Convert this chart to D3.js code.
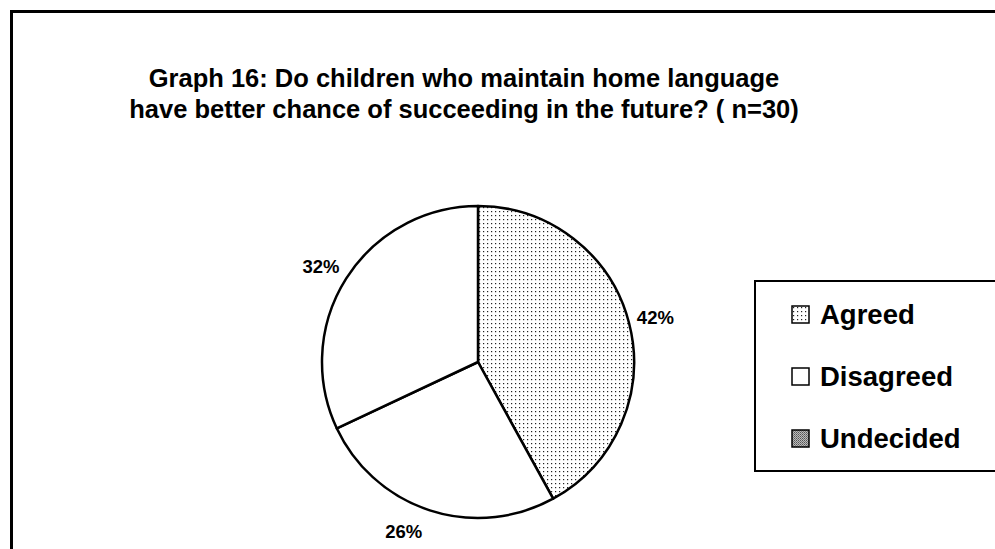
<!DOCTYPE html>
<html>
<head>
<meta charset="utf-8">
<script src="https://cdnjs.cloudflare.com/ajax/libs/d3/7.8.5/d3.min.js"></script>
<style>
  body { margin: 0; background: #fff; }
  svg { display: block; font-family: "Liberation Sans", Arial, sans-serif; }
</style>
</head>
<body>
<div class="canvas"></div>
<script>
const categories = ['Agreed', 'Disagreed', 'Undecided'];
const values = [42, 26, 32];
const titleLines = [
  'Graph 16: Do children who maintain home language',
  'have better chance of succeeding in the future? ( n=30)'
];

const dims = { width: 995, height: 549, radius: 156 };
const cent = { x: 478, y: 362 };

const svg = d3.select('.canvas')
  .append('svg')
  .attr('width', dims.width)
  .attr('height', dims.height);

// fill patterns: dots for Agreed, grey screen for Undecided
const defs = svg.append('defs');
const dots = defs.append('pattern')
  .attr('id', 'dots')
  .attr('patternUnits', 'userSpaceOnUse')
  .attr('width', 4).attr('height', 4);
dots.append('rect').attr('width', 4).attr('height', 4).attr('fill', '#fff');
dots.append('rect').attr('x', 1).attr('y', 1).attr('width', 1.2).attr('height', 1.2).attr('fill', '#222');

const grey = defs.append('pattern')
  .attr('id', 'grey')
  .attr('patternUnits', 'userSpaceOnUse')
  .attr('width', 2).attr('height', 2);
grey.append('rect').attr('width', 2).attr('height', 2).attr('fill', '#bbb');
grey.append('rect').attr('width', 1).attr('height', 1).attr('fill', '#555');
grey.append('rect').attr('x', 1).attr('y', 1).attr('width', 1).attr('height', 1).attr('fill', '#777');

// the pie itself shows Undecided white, as in the scan
const sliceFill = d3.scaleOrdinal()
  .domain(categories)
  .range(['url(#dots)', '#fff', '#fff']);
const legendFill = d3.scaleOrdinal()
  .domain(categories)
  .range(['url(#dots)', '#fff', 'url(#grey)']);

// outer frame (only top and left visible)
svg.append('path')
  .attr('d', `M11.5,${dims.height + 5} L11.5,11.5 L${dims.width + 5},11.5`)
  .attr('fill', 'none')
  .attr('stroke', '#000')
  .attr('stroke-width', 3);

// title
svg.selectAll('.title')
  .data(titleLines)
  .enter()
  .append('text')
    .attr('class', 'title')
    .attr('x', 464)
    .attr('y', (d, i) => 87 + i * 31)
    .attr('text-anchor', 'middle')
    .style('font-size', '25.5px')
    .style('font-weight', 'bold')
    .text(d => d);

const data = categories.map((c, i) => ({ name: c, value: values[i] }));

const pie = d3.pie()
  .sort(null)
  .value(d => d.value);

const arcPath = d3.arc()
  .outerRadius(dims.radius)
  .innerRadius(0);

const graph = svg.append('g')
  .attr('transform', `translate(${cent.x}, ${cent.y})`);

graph.selectAll('path')
  .data(pie(data))
  .enter()
  .append('path')
    .attr('d', arcPath)
    .attr('fill', d => sliceFill(d.data.name))
    .attr('stroke', '#000')
    .attr('stroke-width', 2.5)
    .attr('stroke-linejoin', 'round');

// percentage labels outside the slices
const labelR = dims.radius + 8;
graph.selectAll('.label')
  .data(pie(data))
  .enter()
  .append('text')
    .attr('class', 'label')
    .each(function(d) {
      const a = (d.startAngle + d.endAngle) / 2;
      const s = Math.sin(a), c = Math.cos(a);
      d3.select(this)
        .attr('x', labelR * s - (s < 0 && s > -0.5 ? 5 : 0))
        .attr('y', -labelR * c - c * 14)
        .attr('dy', '0.35em')
        .attr('text-anchor', s > 0 ? 'start' : 'end');
    })
    .style('font-size', '18.5px')
    .style('font-weight', 'bold')
    .text(d => d.data.value + '%');

// legend
const legendBox = { x: 755, y: 281, w: 260, h: 190 };
svg.append('rect')
  .attr('x', legendBox.x)
  .attr('y', legendBox.y)
  .attr('width', legendBox.w)
  .attr('height', legendBox.h)
  .attr('fill', '#fff')
  .attr('stroke', '#000')
  .attr('stroke-width', 2);

const legend = svg.selectAll('.legend')
  .data(categories)
  .enter()
  .append('g')
    .attr('class', 'legend')
    .attr('transform', (d, i) => `translate(792, ${306 + i * 62})`);

legend.append('rect')
  .attr('width', 17)
  .attr('height', 17)
  .attr('fill', d => legendFill(d))
  .attr('stroke', '#000')
  .attr('stroke-width', 1.5);

legend.append('text')
  .attr('x', 28)
  .attr('y', 18)
  .style('font-size', '27.5px')
  .style('font-weight', 'bold')
  .text(d => d);
</script>
</body>
</html>
